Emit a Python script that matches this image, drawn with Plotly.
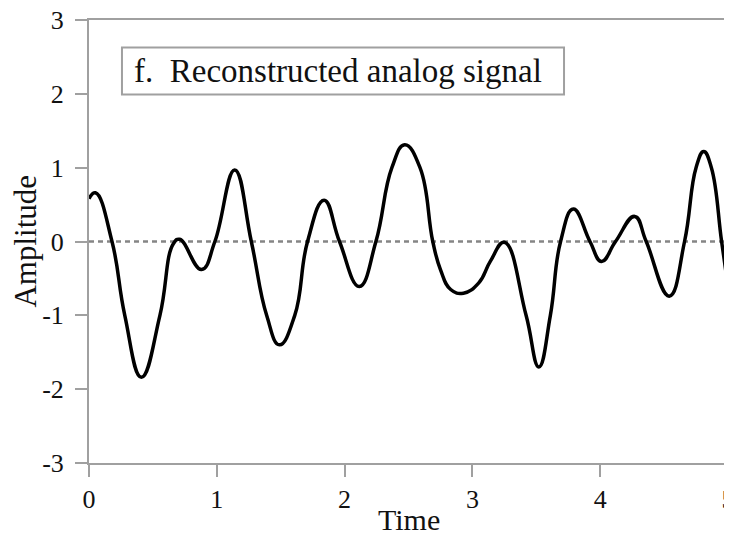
import plotly.graph_objects as go

# Values
time = [0.00, 0.05, 0.18, 0.28, 0.41, 0.555, 0.66, 0.71, 0.88, 0.985,
        1.14, 1.27, 1.39, 1.49, 1.61, 1.71, 1.84, 1.96, 2.115, 2.245,
        2.37, 2.47, 2.59, 2.69, 2.75, 2.83, 2.93, 3.05, 3.14, 3.25,
        3.42, 3.52, 3.61, 3.69, 3.79, 3.92, 4.01, 4.12, 4.27, 4.36,
        4.54, 4.66, 4.75, 4.81, 4.87, 4.95, 5.00]
amplitude = [0.58, 0.66, 0.00, -1.00, -1.84, -1.00, -0.03, 0.03, -0.38, 0.00,
             0.97, 0.00, -1.00, -1.40, -1.00, 0.00, 0.56, 0.00, -0.61, 0.00,
             1.00, 1.31, 1.00, 0.00, -0.38, -0.65, -0.70, -0.56, -0.27, -0.01,
             -1.00, -1.70, -1.00, 0.00, 0.44, 0.00, -0.27, 0.00, 0.34, 0.00,
             -0.74, 0.00, 1.00, 1.22, 1.00, 0.00, -0.61]

x_ticks = [0, 1, 2, 3, 4, 5]
x_labels = ["0", "1", "2", "3", "4", "5"]
y_ticks = [-3, -2, -1, 0, 1, 2, 3]
y_labels = ["-3", "-2", "-1", "0", "1", "2", "3"]
title_text = "f.  Reconstructed analog signal"
FONT = "Liberation Serif, Times New Roman, serif"
AXIS_GRAY = "#a0a0a0"

fig = go.Figure()

# zero reference line (dashed)
fig.add_trace(go.Scatter(
    x=[x_ticks[0], x_ticks[-1]], y=[0, 0], mode="lines",
    line=dict(color="#858585", width=2.5, dash="5px,4px"),
    hoverinfo="skip", showlegend=False))

fig.add_trace(go.Scatter(
    x=time, y=amplitude, mode="lines",
    line=dict(color="black", width=3.5, shape="spline", smoothing=1.3),
    showlegend=False))

# page body has an 8px margin: figure is sized/margined to compensate
fig.update_layout(
    width=724, height=533,
    margin=dict(l=81, r=4, t=12, b=78),
    paper_bgcolor="white", plot_bgcolor="white",
    font=dict(family=FONT, size=26, color="#111"),
    xaxis=dict(range=[0, 5], tickvals=x_ticks, ticktext=x_labels,
               showgrid=False, zeroline=False, automargin=False,
               showline=True, linecolor=AXIS_GRAY, linewidth=2, mirror=True,
               ticks="outside", ticklen=12, tickwidth=1.5, tickcolor=AXIS_GRAY,
               tickfont=dict(size=26), ticklabeloverflow="allow"),
    yaxis=dict(range=[-3, 3], tickvals=y_ticks, ticktext=y_labels,
               showgrid=False, zeroline=False, automargin=False,
               showline=True, linecolor=AXIS_GRAY, linewidth=2, mirror=True,
               ticks="outside", ticklen=12, tickwidth=1.5, tickcolor=AXIS_GRAY,
               tickfont=dict(size=26), ticklabeloverflow="allow",
               ticklabelstandoff=6),
    shapes=[dict(type="rect", xref="x", yref="y", x0=0.258, x1=3.717, y0=1.99, y1=2.628,
                 line=dict(color=AXIS_GRAY, width=2), fillcolor="white", layer="above")],
    annotations=[
        dict(text=title_text, xref="x", yref="y", x=0.34, y=2.31, xanchor="left",
             yanchor="middle", showarrow=False, font=dict(size=33)),
        dict(text="Time", xref="paper", yref="paper", x=0.5, y=-0.128,
             xanchor="center", yanchor="middle", showarrow=False, font=dict(size=30)),
        dict(text="Amplitude", xref="paper", yref="paper", x=-0.10, y=0.5,
             xanchor="center", yanchor="middle", textangle=-90, showarrow=False,
             font=dict(size=31)),
    ],
)

fig.write_html("out.html")
